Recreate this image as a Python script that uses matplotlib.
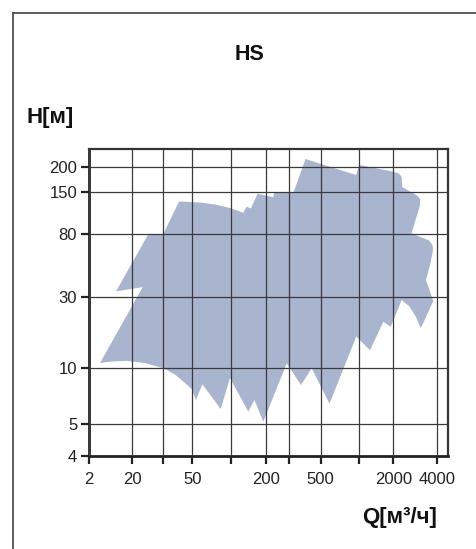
import numpy as np
import matplotlib
matplotlib.use("Agg")
import matplotlib.pyplot as plt
from matplotlib.lines import Line2D
from matplotlib.ticker import FixedLocator, FixedFormatter, NullLocator

plt.rcParams['font.family'] = ['Liberation Sans', 'DejaVu Sans']

# контур рабочей области насосов HS (Q в м3/ч, H в м)
Q = [3.6, 22.9, 8.4, 24.7, 30, 39.6, 57.4, 75.3, 98.7, 128.3, 136.8, 149.4,
     170.1, 228.7, 232.7, 322.9, 392.4, 952, 1012, 2000, 2191, 2287, 2306,
     2920, 3064, 3064, 2675, 3537, 3741, 3771, 3623, 3372, 3789, 3426, 3098,
     2873, 2570, 2287, 1898, 1637, 1254, 957, 587, 433, 365, 290, 190.7, 160,
     141.7, 98.7, 83.5, 60, 53.3, 49.5, 44, 36.9, 30, 23.6, 15, 6.8]
H = [10.85, 34.9, 32.6, 80.4, 80.4, 130.7, 128.8, 125, 118.6, 110.5, 120.9,
     117.7, 146.9, 139.2, 149.6, 148.4, 219.6, 183, 205.3, 190.1, 186.2, 178.9,
     159.4, 143, 135.7, 123.5, 81.2, 72.6, 67.6, 62.5, 50.9, 39, 28.1, 22.7,
     18.5, 22, 26, 28.5, 18.9, 20.4, 13.2, 16.3, 6.42, 10, 8.12, 10.8, 5.13,
     6.73, 5.81, 8.86, 6.01, 8.19, 6.73, 7.72, 8.32, 9.25, 10, 10.85, 11.2, 11.1]

x_ticks = [2, 20, 30, 50, 100, 200, 300, 500, 1000, 2000, 4000]
x_labels = ['2', '20', '', '50', '', '200', '', '500', '', '2000', '4000']
y_ticks = [4, 5, 10, 30, 80, 150, 200]
y_labels = ['4', '5', '10', '30', '80', '150', '200']

# неравномерная шкала как на исходном графике
x_nodes = [2, 20, 30, 50, 100, 200, 300, 500, 1000, 2000, 4000, 4800]
x_pos = [89, 132.3, 163.3, 192.3, 230.7, 265.7, 288.7, 320.7, 358.7, 393.3, 436.7, 448.3]
y_nodes = [4, 5, 10, 30, 80, 150, 200, 245]
y_pos = [93, 125.3, 180.7, 252.3, 314.7, 356.7, 381.7, 399.7]


def make_scale(nodes, pos):
    ln = np.log10(nodes)
    def fwd(v):
        v = np.log10(np.clip(np.asarray(v, dtype=float), 1e-9, None))
        return np.interp(v, ln, pos, left=pos[0] - 1e3, right=pos[-1] + 1e3)
    def inv(p):
        return 10 ** np.interp(p, pos, ln)
    return fwd, inv


fig = plt.figure(figsize=(4.77, 5.49), dpi=100)
ax = fig.add_axes([89 / 477, 1 - 456 / 549, (448.3 - 89) / 477, (456 - 149.3) / 549])

ax.set_xscale('function', functions=make_scale(x_nodes, x_pos))
ax.set_yscale('function', functions=make_scale(y_nodes, y_pos))
ax.set_xlim(2, 4800)
ax.set_ylim(4, 245)

ax.fill(Q, H, color='#a9b4cf', lw=0, zorder=1)

ax.xaxis.set_major_locator(FixedLocator(x_ticks))
ax.xaxis.set_major_formatter(FixedFormatter(x_labels))
ax.yaxis.set_major_locator(FixedLocator(y_ticks))
ax.yaxis.set_major_formatter(FixedFormatter(y_labels))
ax.xaxis.set_minor_locator(NullLocator())
ax.yaxis.set_minor_locator(NullLocator())

ax.set_axisbelow(False)
ax.grid(True, color='#3a3a3a', lw=0.9, zorder=2)
ax.tick_params(axis='both', direction='out', length=5.5, width=1.6,
               color='#222222', labelsize=12, labelcolor='#222222')
ax.tick_params(axis='x', pad=6)
ax.tick_params(axis='y', pad=3)
for s in ['left', 'bottom']:
    ax.spines[s].set_linewidth(2.0)
    ax.spines[s].set_color('#222222')
for s in ['top', 'right']:
    ax.spines[s].set_linewidth(1.6)
    ax.spines[s].set_color('#333333')

fig.text(250 / 477, 1 - 55 / 549, 'HS', ha='center', va='center',
         fontsize=15.5, fontweight='bold', color='#111111')
fig.text(27 / 477, 1 - 118 / 549, 'H[м]', ha='left', va='center',
         fontsize=16, fontweight='bold', color='#111111')
fig.text(437 / 477, 1 - 517 / 549, 'Q[м³/ч]', ha='right', va='center',
         fontsize=16, fontweight='bold', color='#111111')

# рамка
fx = 13.3 / 477
fy = 1 - 12.7 / 549
fig.add_artist(Line2D([fx, fx], [0, fy], transform=fig.transFigure, color='#444444', lw=1.2))
fig.add_artist(Line2D([fx, 1], [fy, fy], transform=fig.transFigure, color='#444444', lw=1.2))

fig.savefig('out.png', dpi=100)
